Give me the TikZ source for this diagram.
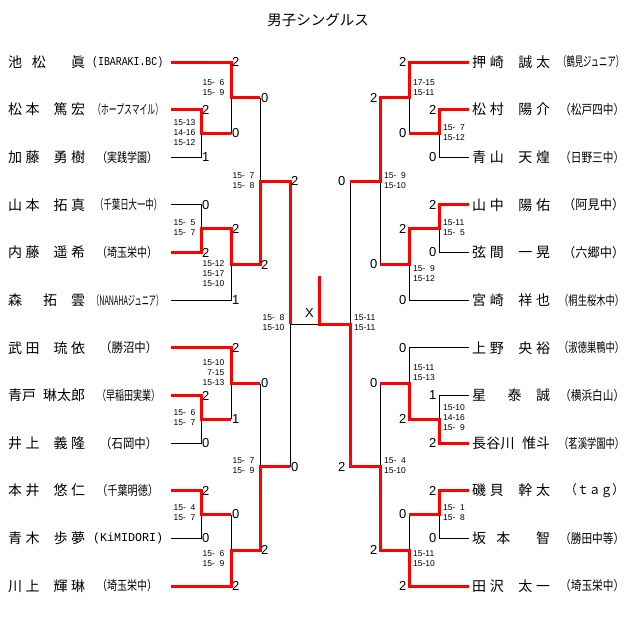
\documentclass[tikz,border=0pt]{standalone}
\usepackage{fontspec}
\usepackage{graphicx}
\setmainfont{Noto Sans CJK JP}
\newfontfamily\lat{Liberation Sans}
\newfontfamily\mono{Liberation Mono}
\newcommand\hs{\hspace{0.5em}}
\def\dst#1{\dstA#1\relax}
\def\dstA#1{#1\dstB}
\def\dstB#1{\ifx\relax#1\else\hfill#1\expandafter\dstB\fi}
\newsavebox\affbox
\newcommand\aff[2]{\sbox\affbox{#2}%
  \ifdim\wd\affbox>#1pt\relax
    \pgfmathsetmacro\affsc{#1/\the\wd\affbox}%
    \scalebox{\affsc}[1]{\usebox\affbox}%
  \else
    \makebox[#1pt][s]{\dst{#2}}%
  \fi}
\newcommand\nmb[2]{\makebox[#1pt][s]{\dst{#2}}}
\begin{document}
\begin{tikzpicture}[x=1pt,y=-1pt,
  win/.style={red,line width=3pt,line join=miter},
  lose/.style={black,line width=0.9pt},
  nm/.style={anchor=west,inner sep=0pt,font=\fontsize{14}{16}\selectfont},
  af/.style={anchor=west,inner sep=0pt,font=\fontsize{13}{15}\selectfont},
  scl/.style={anchor=west,inner sep=0.5pt,font=\lat\fontsize{13}{15}\selectfont},
  scr/.style={anchor=east,inner sep=0.5pt,font=\lat\fontsize{13}{15}\selectfont},
  ssl/.style={anchor=east,inner sep=0pt,align=right,font=\lat\fontsize{8.5}{10}\selectfont},
  ssr/.style={anchor=west,inner sep=0pt,align=left,font=\lat\fontsize{8.5}{10}\selectfont}]
\useasboundingbox (0,0) rectangle (640,637);
\node[font=\fontsize{14.5}{16}\selectfont] (title) at (318,20) {男子シングルス};
% left names
\node[nm] (n0) at (8,62) {\nmb{77}{池\hs 松　\hs 眞}};
\node[nm] (n1) at (8,109.6) {\nmb{77}{松本\hs 篤宏}};
\node[nm] (n2) at (8,157.3) {\nmb{77}{加藤\hs 勇樹}};
\node[nm] (n3) at (8,204.9) {\nmb{77}{山本\hs 拓真}};
\node[nm] (n4) at (8,252.5) {\nmb{77}{内藤\hs 遥希}};
\node[nm] (n5) at (8,300.2) {\nmb{77}{森　拓\hs 雲}};
\node[nm] (n6) at (8,347.8) {\nmb{77}{武田\hs 琉依}};
\node[nm] (n7) at (8,395.5) {\nmb{77}{青戸\hs 琳太郎}};
\node[nm] (n8) at (8,443.1) {\nmb{77}{井上\hs 義隆}};
\node[nm] (n9) at (8,490.7) {\nmb{77}{本井\hs 悠仁}};
\node[nm] (n10) at (8,538.4) {\nmb{77}{青木\hs 歩夢}};
\node[nm] (n11) at (8,586) {\nmb{77}{川上\hs 輝琳}};
\node[af,font=\mono\fontsize{12}{14}\selectfont] (f0) at (92,62) {\aff{71}{(IBARAKI.BC)}};
\node[af] (f1) at (93,109.6) {\aff{70}{（ホープスマイル）}};
\node[af] (f2) at (97,157.3) {\aff{60}{（実践学園）}};
\node[af] (f3) at (95,204.9) {\aff{67}{（千葉日大一中）}};
\node[af] (f4) at (97,252.5) {\aff{60}{（埼玉栄中）}};
\node[af] (f5) at (92,300.2) {\aff{71}{（NANAHAジュニア）}};
\node[af] (f6) at (100,347.8) {\aff{57}{（勝沼中）}};
\node[af] (f7) at (97,395.5) {\aff{63}{（早稲田実業）}};
\node[af] (f8) at (100,443.1) {\aff{57}{（石岡中）}};
\node[af] (f9) at (97,490.7) {\aff{61}{（千葉明徳）}};
\node[af,font=\mono\fontsize{12}{14}\selectfont] (f10) at (93,538.4) {\aff{70}{(KiMIDORI)}};
\node[af] (f11) at (97,586) {\aff{60}{（埼玉栄中）}};
% right names
\node[nm] (m0) at (472,62) {\nmb{78}{押崎\hs 誠太}};
\node[nm] (m1) at (472,109.6) {\nmb{78}{松村\hs 陽介}};
\node[nm] (m2) at (472,157.3) {\nmb{78}{青山\hs 天煌}};
\node[nm] (m3) at (472,204.9) {\nmb{78}{山中\hs 陽佑}};
\node[nm] (m4) at (472,252.5) {\nmb{78}{弦間\hs 一晃}};
\node[nm] (m5) at (472,300.2) {\nmb{78}{宮崎\hs 祥也}};
\node[nm] (m6) at (472,347.8) {\nmb{78}{上野\hs 央裕}};
\node[nm] (m7) at (472,395.5) {\nmb{78}{星　泰\hs 誠}};
\node[nm] (m8) at (472,443.1) {\nmb{78}{長谷川\hs 惟斗}};
\node[nm] (m9) at (472,490.7) {\nmb{78}{磯貝\hs 幹太}};
\node[nm] (m10) at (472,538.4) {\nmb{78}{坂\hs 本　\hs 智}};
\node[nm] (m11) at (472,586) {\nmb{78}{田沢\hs 太一}};
\node[af] (g0) at (558,62) {\aff{66}{（鶴見ジュニア）}};
\node[af] (g1) at (560,109.6) {\aff{64}{（松戸四中）}};
\node[af] (g2) at (560,157.3) {\aff{64}{（日野三中）}};
\node[af] (g3) at (563,204.9) {\aff{61}{（阿見中）}};
\node[af] (g4) at (563,252.5) {\aff{61}{（六郷中）}};
\node[af] (g5) at (559,300.2) {\aff{65}{（桐生桜木中）}};
\node[af] (g6) at (559,347.8) {\aff{65}{（淑徳巣鴨中）}};
\node[af] (g7) at (560,395.5) {\aff{64}{（横浜白山）}};
\node[af] (g8) at (559,443.1) {\aff{65}{（茗溪学園中）}};
\node[af] (g9) at (565,490.7) {\aff{59}{（ｔａｇ）}};
\node[af] (g10) at (560,538.4) {\aff{64}{（勝田中等）}};
\node[af] (g11) at (560,586) {\aff{64}{（埼玉栄中）}};
% coordinates
\foreach \i/\y in {0/62,1/109.6,2/157.3,3/204.9,4/252.5,5/300.2,6/347.8,7/395.5,8/443.1,9/490.7,10/538.4,11/586}{
  \coordinate (la\i) at (171,\y);
  \coordinate (ra\i) at (469,\y);
}
\coordinate (a1) at (201,133.5); \coordinate (A1) at (231,97.7);
\coordinate (a2) at (201,228.7); \coordinate (A2) at (231,264.5);
\coordinate (S1) at (260,181.1);
\coordinate (a3) at (201,419.3); \coordinate (A3) at (231,383.5);
\coordinate (a4) at (201,514.5); \coordinate (A4) at (231,550.3);
\coordinate (S2) at (260,466.9);
\coordinate (F) at (290,324); \coordinate (C) at (319,324);
\coordinate (Cu) at (319,276); \coordinate (FR) at (350,324);
\coordinate (b1) at (439,133.5); \coordinate (B1) at (409,97.7);
\coordinate (b2) at (439,228.7); \coordinate (B2) at (409,264.5);
\coordinate (T1) at (380,181.1);
\coordinate (b3) at (439,419.3); \coordinate (B3) at (409,383.5);
\coordinate (b4) at (439,514.5); \coordinate (B4) at (409,550.3);
\coordinate (T2) at (380,466.9);
% black lines left
\draw[lose] (la2) -| (a1);
\draw[lose] (A1) -- (a1 -| A1);
\draw[lose] (A1 -| S1) -- (S1);
\draw[lose] (la3) -| (a2);
\draw[lose] (la5) -| (A2);
\draw[lose] (F) -- (S2 -| F);
\draw[lose] (F) -- (C);
\draw[lose] (la8) -| (a3);
\draw[lose] (A3) -- (a3 -| A1);
\draw[lose] (A3 -| S1) -- (S2);
\draw[lose] (la10) -| (a4);
\draw[lose] (a4 -| A1) -- (A4);
% black lines right
\draw[lose] (ra2) -| (b1);
\draw[lose] (B1) -- (b1 -| B1);
\draw[lose] (ra4) -| (b2);
\draw[lose] (ra5) -| (B2);
\draw[lose] (T1) -- (B2 -| T1);
\draw[lose] (T1 -| FR) -- (FR);
\draw[lose] (ra6) -| (B3);
\draw[lose] (ra7) -| (b3);
\draw[lose] (B3 -| T1) -- (T2);
\draw[lose] (ra10) -| (b4);
\draw[lose] (b4 -| B1) -- (B4);
% red lines left
\draw[win] (la0) -| (A1) -- (A1 -| S1);
\draw[win] (la1) -| (a1) -- (a1 -| A1);
\draw[win] (la4) -| (a2) -- (a2 -| A1) |- (A2 -| S1) |- (S1 -| F) -- (F);
\draw[win] (la6) -| (A3) -- (A3 -| S1);
\draw[win] (la7) -| (a3) -- (a3 -| A1);
\draw[win] (la9) -| (a4) -- (a4 -| A1);
\draw[win] (la11) -| (A4) -- (A4 -| S1) |- (S2 -| F);
% red lines right
\draw[win] (ra0) -| (B1) -- (B1 -| T1) |- (T1 -| FR);
\draw[win] (ra1) -| (b1) -- (b1 -| B1);
\draw[win] (ra3) -| (b2) -- (b2 -| B1) |- (B2 -| T1);
\draw[win] (ra8) -| (b3) -- (b3 -| B1) |- (B3 -| T1);
\draw[win] (ra9) -| (b4) -- (b4 -| B1);
\draw[win] (ra11) -| (B4) -- (B4 -| T1) |- (T2 -| FR) -- (FR) -- (C) -- (Cu);
\node[font=\lat\fontsize{13}{15}\selectfont,inner sep=0pt] (x) at (309.5,313) {X};
% scores left
\node[scl] (s1) at (231.5,62) {2};
\node[scl] (s2) at (231.5,133.5) {0};
\node[scl] (s3) at (201.5,109.6) {2};
\node[scl] (s4) at (201.5,157.3) {1};
\node[scl] (s5) at (260.5,97.7) {0};
\node[scl] (s6) at (201.5,204.9) {0};
\node[scl] (s7) at (201.5,252.5) {2};
\node[scl] (s8) at (231.5,228.7) {2};
\node[scl] (s9) at (231.5,300.2) {1};
\node[scl] (s10) at (260.5,264.5) {2};
\node[scl] (s11) at (290.5,181.1) {2};
\node[scl] (s12) at (290.5,466.9) {0};
\node[scl] (s13) at (231.5,347.8) {2};
\node[scl] (s14) at (201.5,395.5) {2};
\node[scl] (s15) at (201.5,443.1) {0};
\node[scl] (s16) at (231.5,419.3) {1};
\node[scl] (s17) at (260.5,383.5) {0};
\node[scl] (s18) at (201.5,490.7) {2};
\node[scl] (s19) at (201.5,538.4) {0};
\node[scl] (s20) at (231.5,514.5) {0};
\node[scl] (s21) at (231.5,586) {2};
\node[scl] (s22) at (260.5,550.3) {2};
% scores right
\node[scr] (t1) at (407,62) {2};
\node[scr] (t2) at (407,133.5) {0};
\node[scr] (t3) at (437,109.6) {2};
\node[scr] (t4) at (437,157.3) {0};
\node[scr] (t5) at (378,97.7) {2};
\node[scr] (t6) at (437,204.9) {2};
\node[scr] (t7) at (437,252.5) {0};
\node[scr] (t8) at (407,228.7) {2};
\node[scr] (t9) at (407,300.2) {0};
\node[scr] (t10) at (378,264.5) {0};
\node[scr] (t11) at (346,181.1) {0};
\node[scr] (t12) at (346,466.9) {2};
\node[scr] (t13) at (407,347.8) {0};
\node[scr] (t14) at (437,395.5) {1};
\node[scr] (t15) at (437,443.1) {2};
\node[scr] (t16) at (407,419.3) {2};
\node[scr] (t17) at (378,383.5) {0};
\node[scr] (t18) at (437,490.7) {2};
\node[scr] (t19) at (437,538.4) {0};
\node[scr] (t20) at (407,514.5) {0};
\node[scr] (t21) at (407,586) {2};
\node[scr] (t22) at (378,550.3) {2};
% set scores left
\node[ssl] (p1) at (224.5,88) {15-\phantom{0}6\\15-\phantom{0}9};
\node[ssl] (p2) at (195.5,133) {15-13\\14-16\\15-12};
\node[ssl] (p3) at (254.5,181) {15-\phantom{0}7\\15-\phantom{0}8};
\node[ssl] (p4) at (195.5,228) {15-\phantom{0}5\\15-\phantom{0}7};
\node[ssl] (p5) at (224.5,274) {15-12\\15-17\\15-10};
\node[ssl] (p6) at (284.5,323) {15-\phantom{0}8\\15-10};
\node[ssl] (p7) at (224.5,373) {15-10\\7-15\\15-13};
\node[ssl] (p8) at (195.5,418) {15-\phantom{0}6\\15-\phantom{0}7};
\node[ssl] (p9) at (254.5,466) {15-\phantom{0}7\\15-\phantom{0}9};
\node[ssl] (p10) at (195.5,513) {15-\phantom{0}4\\15-\phantom{0}7};
\node[ssl] (p11) at (224.5,559) {15-\phantom{0}6\\15-\phantom{0}9};
% set scores right
\node[ssr] (q1) at (413,88) {17-15\\15-11};
\node[ssr] (q2) at (443,133) {15-\phantom{0}7\\15-12};
\node[ssr] (q3) at (384,181) {15-\phantom{0}9\\15-10};
\node[ssr] (q4) at (443,228) {15-11\\15-\phantom{0}5};
\node[ssr] (q5) at (413,274) {15-\phantom{0}9\\15-12};
\node[ssr] (q6) at (354,323) {15-11\\15-11};
\node[ssr] (q7) at (413,373) {15-11\\15-13};
\node[ssr] (q8) at (443,418) {15-10\\14-16\\15-\phantom{0}9};
\node[ssr] (q9) at (384,466) {15-\phantom{0}4\\15-10};
\node[ssr] (q10) at (443,513) {15-\phantom{0}1\\15-\phantom{0}8};
\node[ssr] (q11) at (413,559) {15-11\\15-10};
\end{tikzpicture}
\end{document}
